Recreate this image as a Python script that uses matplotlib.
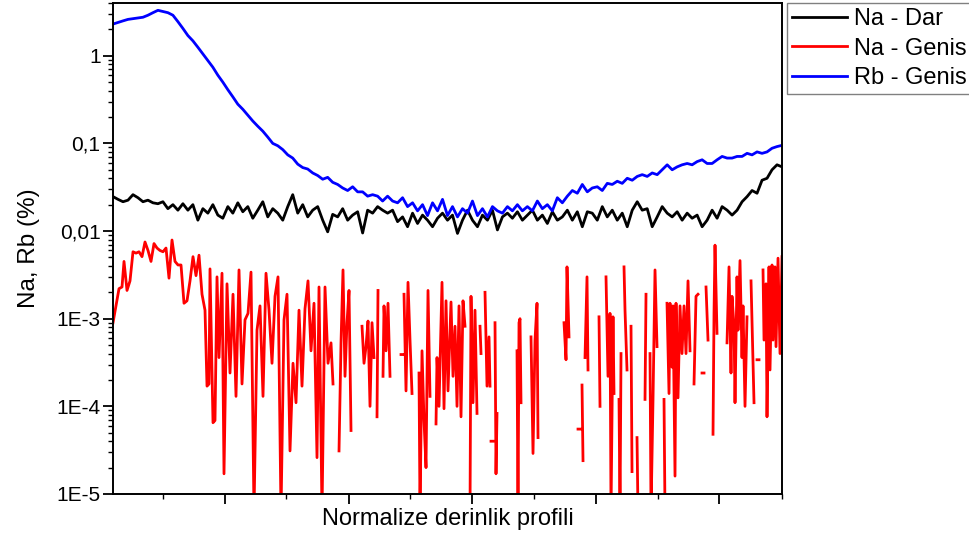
import numpy as np
import matplotlib
matplotlib.use("Agg")
import matplotlib.pyplot as plt
from matplotlib.ticker import FixedLocator, FixedFormatter, LogLocator, NullFormatter

plt.rcParams['font.family'] = ['Liberation Sans', 'DejaVu Sans']

# Na - Dar, Rb - Genis: evenly sampled along the normalized depth (0..669)
na_dar = [
    0.0247, 0.023, 0.0216, 0.0225, 0.026, 0.024, 0.0216, 0.0225, 0.021, 0.0205,
    0.0216, 0.018, 0.020, 0.0173, 0.0205, 0.0173, 0.02, 0.0133, 0.018, 0.016,
    0.02, 0.0152, 0.014, 0.019, 0.016, 0.021, 0.0166, 0.019, 0.014, 0.0173,
    0.0216, 0.0145, 0.018, 0.016, 0.0133, 0.019, 0.026, 0.016, 0.02, 0.0145,
    0.0173, 0.019, 0.0133, 0.0098, 0.0155, 0.0145, 0.018, 0.0133, 0.0152, 0.0166,
    0.0095, 0.0173, 0.016, 0.019, 0.0173, 0.016, 0.0173, 0.0128, 0.0145, 0.0112,
    0.016, 0.0122, 0.0152, 0.0133, 0.0112, 0.014, 0.016, 0.0133, 0.0152, 0.0094,
    0.0133, 0.0173, 0.0133, 0.0112, 0.0152, 0.0133, 0.0173, 0.0103, 0.0145, 0.016,
    0.014, 0.0166, 0.0133, 0.0152, 0.0173, 0.0133, 0.0152, 0.0122, 0.0166, 0.0133,
    0.0145, 0.0173, 0.0133, 0.0166, 0.0112, 0.0166, 0.016, 0.0133, 0.019, 0.0145,
    0.0173, 0.0133, 0.016, 0.0112, 0.0173, 0.0216, 0.0173, 0.018, 0.0112, 0.0145,
    0.019, 0.016, 0.0145, 0.0166, 0.0133, 0.016, 0.014, 0.0152, 0.0112, 0.0133,
    0.0173, 0.014, 0.019, 0.0173, 0.0152, 0.0173, 0.0216, 0.0247, 0.029, 0.027,
    0.038, 0.040, 0.050, 0.057, 0.054,
]

rb_genis = [
    2.3, 2.4, 2.5, 2.6, 2.65, 2.7, 2.75, 2.9, 3.1, 3.3,
    3.2, 3.1, 2.9, 2.45, 2.05, 1.7, 1.48, 1.25, 1.05, 0.88,
    0.74, 0.6, 0.5, 0.41, 0.34, 0.28, 0.245, 0.21, 0.18, 0.157,
    0.138, 0.118, 0.1, 0.094, 0.085, 0.074, 0.068, 0.058, 0.053, 0.051,
    0.046, 0.043, 0.039, 0.041, 0.036, 0.034, 0.031, 0.029, 0.032, 0.028,
    0.028, 0.025, 0.026, 0.025, 0.022, 0.025, 0.022, 0.021, 0.024, 0.019,
    0.021, 0.017, 0.02, 0.015, 0.021, 0.017, 0.023, 0.015, 0.019, 0.0145,
    0.018, 0.016, 0.022, 0.015, 0.018, 0.0145, 0.019, 0.017, 0.016, 0.019,
    0.017, 0.02, 0.017, 0.019, 0.017, 0.022, 0.018, 0.02, 0.017, 0.024,
    0.021, 0.025, 0.029, 0.027, 0.034, 0.028, 0.031, 0.032, 0.029, 0.035,
    0.034, 0.037, 0.035, 0.04, 0.038, 0.042, 0.044, 0.042, 0.046, 0.044,
    0.05, 0.057, 0.05, 0.054, 0.057, 0.059, 0.057, 0.062, 0.065, 0.059,
    0.059, 0.065, 0.071, 0.068, 0.068, 0.071, 0.071, 0.077, 0.074, 0.08,
    0.077, 0.08, 0.088, 0.092, 0.095,
]

# Na - Genis: zero readings are gaps on the log axis (nan)
nan = np.nan
na_genis_depth = [
    0, 3, 6, 9, 11, 14, 17, 20, 23, 26, 29, 32, 35, 38, 41, 44, 47, 50, 53, 56,
    59, 62, 65, 68, 71, 74, 77, 80, 83, 86, 89, 92, 94, 96, 97, 100, 102, 104, 106, 109,
    111, 114, 117, 120, 123, 126, 129, 132, 135, 138, 141, 144, 147, 150, 153, 156, 159, 162, 165, 168,
    171, 174, 177, 180, 183, 186, 189, 192, 195, 198, 201, 204, 206, 209, 212, 215, 218, 220, nan,
    226, 228, 230, 232, 234, 236, 238, nan,
    249, 251, 253, 255, 257, 259, 261, nan,
    264, 265, nan,
    270, 271, 273, 275, 277, nan,
    288, 290, nan,
    291, 293, 295, 297, 299, nan,
    306, 307, 309, 311, 313, 315, 317, nan,
    323, 324, 326, 329, 331, 333, 335, 338, 340, 342, 344, 346, 348, 350, 352, nan,
    357, 358, 360, 362, 364, nan,
    367, 368, nan,
    372, 374, 376, 377, nan,
    378, 380, nan,
    382, 383, 384, nan,
    404, 405, 406, 407, 408, nan,
    418, 420, 422, 424, 425, nan,
    451, 453, 454, 456, nan,
    465, 467, nan,
    469, 470, nan,
    472, 474, 475, nan,
    486, 487, nan,
    493, 495, 497, 498, 500, 501, nan,
    506, 507, 508, nan,
    511, 512, 513, 514, nan,
    518, 519, nan,
    524, 525, nan,
    532, 533, nan,
    537, 538, 540, 542, 544, nan,
    551, 552, nan,
    554, 556, 557, 559, 560, 562, 563, 565, 567, 569, 571, 573, 575, 577, nan,
    581, 583, 585, nan,
    589, 591, nan,
    593, 595, nan,
    600, 601, 602, 604, nan,
    614, 616, 618, 619, 621, 622, 624, 625, 627, 629, 630, 632, 634, nan,
    638, 639, 641, nan,
    644, 646, nan,
    650, 651, 653, 654, 656, 657, 659, 660, 662, 663, 665, 667, 669,
]
na_genis = [
    9e-4, 1.4e-3, 2.2e-3, 2.3e-3, 4.5e-3, 2.1e-3, 2.7e-3, 5.8e-3, 5.6e-3, 5.8e-3,
    5.1e-3, 7.5e-3, 6.0e-3, 4.5e-3, 7.2e-3, 6.4e-3, 6.0e-3, 5.8e-3, 6.4e-3, 2.9e-3,
    7.9e-3, 4.5e-3, 4.1e-3, 4.1e-3, 1.5e-3, 1.6e-3, 2.7e-3, 5.1e-3, 3.1e-3, 5.3e-3,
    1.9e-3, 1.25e-3, 1.7e-4, 1.8e-4, 3.7e-3, 6.5e-5, 6.9e-5, 3.0e-3, 3.6e-4, 3.3e-3,
    1.7e-5, 2.5e-3, 2.4e-4, 1.9e-3, 1.3e-4, 3.6e-3, 1.8e-4, 9.7e-4, 1.15e-3, 3.4e-3,
    6e-6, 7.4e-4, 1.4e-3, 1.3e-4, 3.3e-3, 1.25e-3, 3.1e-4, 1.8e-3, 3.0e-3, 6e-6,
    9.7e-4, 1.9e-3, 3.1e-5, 3.1e-4, 1.1e-4, 1.25e-3, 1.7e-4, 1.3e-3, 2.7e-3, 4.3e-4,
    1.5e-3, 2.6e-5, 2.3e-3, 6e-6, 2.3e-3, 3.1e-4, 5.3e-4, 1.8e-4, nan,
    3.1e-5, 5.3e-4, 3.6e-3, 2.2e-4, 9e-4, 2.1e-3, 5.3e-5, nan,
    8.2e-4, 3.1e-4, 4.8e-4, 9.4e-4, 1.0e-4, 9e-4, 3.6e-4, nan,
    7.6e-5, 2.1e-3, nan,
    2.2e-4, 1.4e-3, 4.3e-4, 1.5e-3, 2.2e-4, nan,
    3.9e-4, 3.9e-4, nan,
    1.9e-3, 1.5e-4, 2.6e-3, 5.7e-4, 1.4e-4, nan,
    2.4e-4, 6e-6, 4.3e-4, 6.9e-5, 2e-5, 2.1e-3, 1.3e-4, nan,
    6.3e-5, 3.6e-4, 1e-4, 2.6e-3, 9.4e-5, 1.6e-3, 1.5e-4, 1.55e-3, 2.2e-4, 8.2e-4,
    1e-4, 1.4e-3, 7.6e-5, 1.6e-3, 8.2e-4, nan,
    6e-6, 1.8e-3, 1.1e-4, 1.25e-3, 8.3e-5, nan,
    8.2e-4, 4e-4, nan,
    2e-3, 1.7e-4, 6.2e-4, 1.7e-4, nan,
    4e-5, 4e-5, nan,
    9e-4, 1.7e-5, 8.3e-5, nan,
    4.3e-4, 6e-6, 9e-4, 1e-3, 1.1e-4, nan,
    6.2e-4, 2.9e-5, 5.7e-4, 1.5e-3, 4.4e-5, nan,
    9e-4, 3.4e-4, 3.9e-3, 6.2e-4, nan,
    5.5e-5, 5.5e-5, nan,
    1.75e-4, 2.4e-5, nan,
    3.6e-4, 3.0e-3, 2.6e-4, nan,
    1.05e-3, 1e-4, nan,
    3e-3, 2.2e-4, 1.15e-3, 6e-6, 1.05e-3, 1.4e-4, nan,
    1.2e-4, 6e-6, 4e-4, nan,
    3.9e-3, 1.25e-3, 5.7e-4, 2.6e-4, nan,
    8.2e-4, 1.8e-5, nan,
    4.4e-5, 6e-6, nan,
    1.2e-4, 1.9e-3, nan,
    4e-4, 6e-6, 1.2e-4, 3.6e-3, 4.8e-4, nan,
    1.2e-4, 6e-6, nan,
    1.5e-3, 1.4e-4, 1.5e-3, 2.8e-4, 1.4e-3, 1.6e-5, 1.5e-3, 1.25e-4, 1.4e-3, 4e-4,
    1.4e-3, 4e-4, 2.7e-3, 4.3e-4, nan,
    1.8e-4, 1.8e-3, 1.9e-3, nan,
    2.4e-4, 2.4e-4, nan,
    2.3e-3, 5.7e-4, nan,
    4.8e-5, 1.15e-3, 6.9e-3, 6.8e-4, nan,
    5.3e-4, 3.9e-3, 2.4e-4, 1.8e-3, 8.2e-4, 1.1e-4, 3e-3, 7.4e-4, 4.6e-3, 3.6e-4,
    1.4e-3, 1e-4, 1.05e-3, nan,
    2.7e-3, 9e-4, 1.1e-4, nan,
    3.4e-4, 3.4e-4, nan,
    3.6e-3, 5.7e-4, 2.5e-3, 7.6e-5, 3.9e-3, 2.6e-4, 4.1e-3, 5.7e-4, 3.9e-3, 4.8e-4,
    4.9e-3, 4e-4, 5.1e-3,
]

y_ticks = [1e-5, 1e-4, 1e-3, 1e-2, 1e-1, 1]
y_tick_labels = ['1E-5', '1E-4', '1E-3', '0,01', '0,1', '1']

depth = np.linspace(0, 669, len(na_dar))

fig = plt.figure(figsize=(9.7, 5.33), dpi=100)
ax = fig.add_axes([0.1165, 0.0732, 0.6897, 0.9212])

ax.plot(depth, na_dar, color='black', lw=2.0, label='Na - Dar')
ax.plot(na_genis_depth, na_genis, color='#ff0000', lw=2.0, label='Na - Genis')
ax.plot(depth, rb_genis, color='#0000ff', lw=2.0, label='Rb - Genis')

ax.set_yscale('log')
ax.set_ylim(1e-5, 4.0)
ax.set_xlim(0, 669)

ax.yaxis.set_major_locator(FixedLocator(y_ticks))
ax.yaxis.set_major_formatter(FixedFormatter(y_tick_labels))
ax.yaxis.set_minor_locator(LogLocator(base=10, subs=np.arange(2, 10)))
ax.yaxis.set_minor_formatter(NullFormatter())

# unlabeled depth ticks
ax.set_xticks([112, 236, 359, 483, 606])
ax.set_xticks([50, 173, 297, 421, 545, 669], minor=True)
ax.set_xticklabels([])

ax.tick_params(which='major', direction='out', length=7, width=1.3,
               labelsize=15, pad=2, top=False, right=False)
ax.tick_params(which='minor', direction='out', length=3.5, width=1.0,
               top=False, right=False)
for sp in ax.spines.values():
    sp.set_linewidth(1.4)

ax.set_xlabel('Normalize derinlik profili', fontsize=17, labelpad=1)
ax.set_ylabel('Na, Rb (%)', fontsize=17.5, labelpad=12)

leg = ax.legend(loc='upper left', bbox_to_anchor=(1.0075, 1.0), borderaxespad=0,
                fontsize=17, frameon=True, fancybox=False, framealpha=1,
                edgecolor='#808080', handlelength=2.3, handletextpad=0.3,
                labelspacing=0.32, borderpad=0.22)
leg.get_frame().set_linewidth(1.0)

fig.savefig('out.png', dpi=100)
